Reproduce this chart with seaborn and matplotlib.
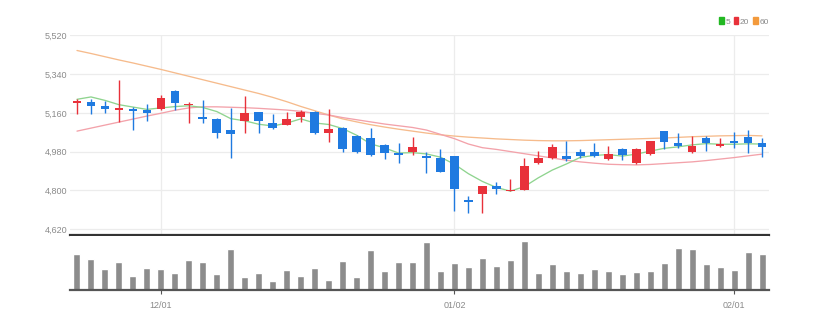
import matplotlib
matplotlib.use("Agg")
import matplotlib.pyplot as plt
from matplotlib.patches import Patch
from matplotlib.ticker import FuncFormatter
import numpy as np
import pandas as pd
import seaborn as sns

# Daily OHLC prices
opens = [5205, 5209, 5191, 5174, 5180, 5172, 5177, 5260, 5195, 5140,
         5130, 5079, 5121, 5163, 5115, 5102, 5140, 5163, 5065, 5088,
         5051, 5041, 5010, 4974, 4977, 4960, 4949, 4959, 4753, 4781,
         4819, 4796, 4801, 4926, 4950, 4960, 4977, 4977, 4944, 4994,
         4926, 4968, 5075, 5022, 4978, 5041, 5005, 5031, 5048, 5019]
highs = [5223, 5223, 5214, 5311, 5186, 5200, 5242, 5265, 5209, 5218,
         5134, 5181, 5237, 5165, 5153, 5163, 5172, 5167, 5177, 5092,
         5055, 5088, 5013, 5019, 5047, 4977, 4991, 4961, 4773, 4821,
         4838, 4852, 4951, 4982, 5013, 5029, 4994, 5019, 5005, 4998,
         4996, 5030, 5077, 5064, 5051, 5052, 5041, 5069, 5079, 5041]
lows = [5153, 5153, 5158, 5116, 5079, 5121, 5172, 5172, 5112, 5112,
        5042, 4949, 5065, 5065, 5084, 5102, 5116, 5062, 5024, 4977,
        4972, 4960, 4945, 4926, 4963, 4880, 4884, 4704, 4694, 4694,
        4782, 4795, 4800, 4921, 4945, 4937, 4949, 4957, 4942, 4940,
        4924, 4966, 4991, 4996, 4975, 4982, 5000, 4996, 4972, 4956]
closes = [5214, 5191, 5178, 5181, 5170, 5160, 5228, 5205, 5202, 5130,
          5065, 5061, 5158, 5121, 5088, 5130, 5163, 5065, 5084, 4991,
          4977, 4963, 4972, 4963, 5000, 4949, 4886, 4806, 4745, 4820,
          4806, 4803, 4912, 4949, 5000, 4945, 4959, 4959, 4968, 4963,
          4991, 5028, 5024, 5005, 5005, 5022, 5014, 5022, 5019, 5000]
volumes = [36000, 30600, 21000, 28300, 14300, 22000, 21000, 16700, 29700, 28300,
           16000, 41000, 13300, 16700, 9000, 20300, 14300, 22300, 10000, 29300,
           13300, 39700, 19300, 28300, 27700, 47700, 19500, 27000, 23300, 32300,
           24300, 30000, 49000, 16700, 25700, 19000, 16700, 21000, 19300, 16000,
           17700, 19000, 27000, 41700, 41000, 25700, 22700, 19700, 38300, 36000]

# Moving averages (5, 20 and 60 day)
ma5 = [5223, 5234, 5218, 5198, 5187, 5176, 5183, 5189, 5193, 5185,
       5166, 5133, 5123, 5107, 5099, 5112, 5132, 5113, 5106, 5087,
       5056, 5016, 4997, 4973, 4975, 4969, 4954, 4921, 4877, 4841,
       4813, 4796, 4817, 4858, 4894, 4922, 4953, 4962, 4966, 4959,
       4968, 4982, 4995, 5002, 5011, 5017, 5014, 5014, 5016, 5015]
ma20 = [5075, 5089, 5103, 5117, 5131, 5145, 5158, 5172, 5183, 5188,
        5188, 5186, 5184, 5181, 5177, 5173, 5167, 5158, 5150, 5138,
        5128, 5118, 5108, 5100, 5092, 5080, 5060, 5040, 5015, 4998,
        4990, 4980, 4970, 4960, 4950, 4940, 4932, 4926, 4921, 4919,
        4918, 4920, 4924, 4928, 4932, 4938, 4945, 4952, 4960, 4968]
ma60 = [5450, 5436, 5421, 5406, 5392, 5377, 5362, 5346, 5330, 5314,
        5298, 5282, 5266, 5250, 5232, 5212, 5190, 5170, 5150, 5132,
        5118, 5105, 5094, 5084, 5075, 5066, 5058, 5052, 5047, 5043,
        5039, 5036, 5033, 5031, 5030, 5030, 5031, 5033, 5035, 5037,
        5039, 5041, 5043, 5046, 5049, 5051, 5053, 5054, 5055, 5053]

tick_pos = [6, 27, 47]
tick_labels = ["12/01", "01/02", "02/01"]
price_ticks = [4620, 4800, 4980, 5160, 5340, 5520]

UP = "#e8313a"
DOWN = "#1f7ae0"
C5, C20, C60 = "#8fd48f", "#f3a2aa", "#f6bb8c"
GRID = "#ececec"
LABEL = "#8a8a8a"

sns.set_theme(style="white")
plt.rcParams["font.family"] = ["Liberation Sans Narrow", "Liberation Sans", "DejaVu Sans"]

df = pd.DataFrame({"idx": np.arange(len(closes)), "open": opens, "high": highs,
                   "low": lows, "close": closes, "volume": volumes,
                   "ma5": ma5, "ma20": ma20, "ma60": ma60})

W, H = 821, 326
fig = plt.figure(figsize=(W / 100, H / 100), dpi=100)
ax = fig.add_axes([70 / W, 1 - 235 / H, 699 / W, 200 / H])
axv = fig.add_axes([70 / W, 1 - 290 / H, 699 / W, 54 / H])

# price panel
for p in price_ticks:
    ax.axhline(p, color=GRID, lw=0.9, zorder=0)
for t in tick_pos:
    ax.axvline(t, color=GRID, lw=0.9, zorder=0)

sns.lineplot(data=df, x="idx", y="ma60", ax=ax, color=C60, lw=0.95, zorder=2)
sns.lineplot(data=df, x="idx", y="ma20", ax=ax, color=C20, lw=0.95, zorder=2)
sns.lineplot(data=df, x="idx", y="ma5", ax=ax, color=C5, lw=0.95, zorder=2)

colors = [UP if c >= o else DOWN for o, c in zip(opens, closes)]
ax.vlines(df["idx"], df["low"], df["high"], colors=colors, lw=1.0, zorder=3)
body_bottom = np.minimum(df["open"], df["close"])
body_h = np.maximum(np.abs(df["close"] - df["open"]), 6)
ax.bar(df["idx"], body_h, bottom=body_bottom, width=0.62, color=colors, zorder=4,
       linewidth=0)

ax.set_xlim(-0.5, 49.5)
ax.set_ylim(4592, 5522)
ax.set_yticks(price_ticks)
ax.yaxis.set_major_formatter(FuncFormatter(lambda v, _: f"{int(v):,}"))
ax.tick_params(axis="y", labelsize=6.5, colors=LABEL, length=0, pad=2)
ax.set_xticks([])
ax.set_xlabel("")
ax.set_ylabel("")
for s in ("top", "right", "left"):
    ax.spines[s].set_visible(False)
ax.spines["bottom"].set_color("#333333")
ax.spines["bottom"].set_linewidth(1.6)

# volume panel
sns.barplot(data=df, x="idx", y="volume", ax=axv, color="#8c8c8c", width=0.5,
            saturation=1, native_scale=True)
axv.set_xlim(-0.5, 49.5)
axv.set_ylim(0, 54000)
axv.set_yticks([])
axv.set_xticks(tick_pos)
axv.set_xticklabels(tick_labels)
axv.tick_params(axis="x", labelsize=6.5, colors=LABEL, length=3, width=0.8, pad=5,
                bottom=True)
axv.tick_params(axis="x", color="#555555")
axv.set_xlabel("")
axv.set_ylabel("")
for s in ("top", "right", "left"):
    axv.spines[s].set_visible(False)
axv.spines["bottom"].set_color("#555555")
axv.spines["bottom"].set_linewidth(1.6)

# legend
handles = [Patch(color="#22b822", label="5"), Patch(color="#e8313a", label="20"),
           Patch(color="#f39a3c", label="60")]
leg = fig.legend(handles=handles, loc="upper right", bbox_to_anchor=(772 / W, 1 - 14 / H),
                 ncol=3, frameon=False, fontsize=6, handlelength=0.5, handleheight=0.9,
                 handletextpad=0.2, columnspacing=0.5, borderaxespad=0)
for txt in leg.get_texts():
    txt.set_color(LABEL)

fig.savefig("out.png", dpi=100)
